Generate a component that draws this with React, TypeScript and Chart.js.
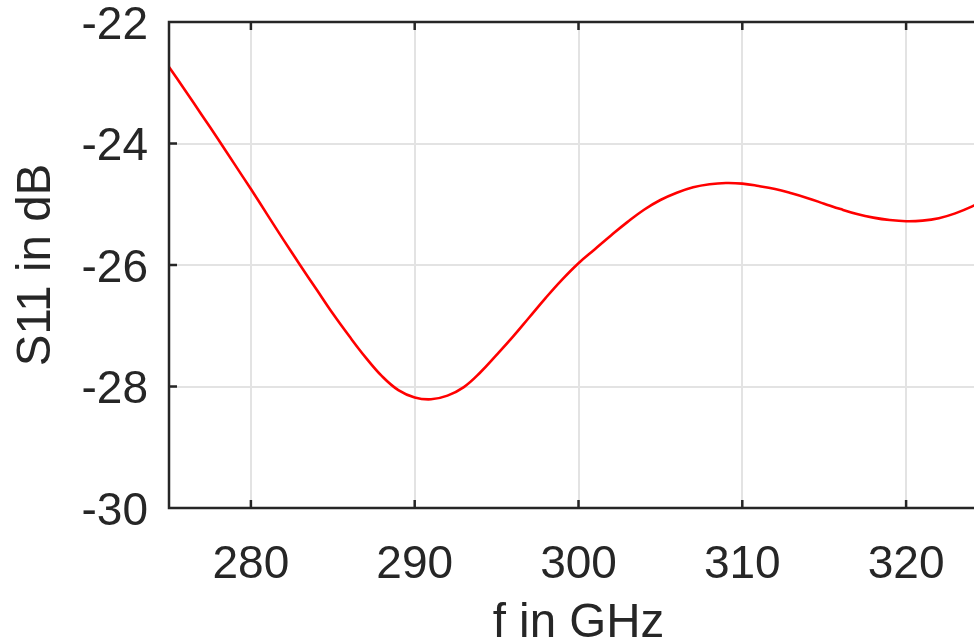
import React, { useEffect, useRef } from "react";
import { Chart, registerables } from "chart.js";

Chart.register(...registerables);

const freqGHz = [
  275, 276, 277, 278, 279, 280, 281, 282, 283, 284, 285, 286, 287, 288, 289,
  290, 291, 292, 293, 294, 295, 296, 297, 298, 299, 300, 301, 302, 303, 304,
  305, 306, 307, 308, 309, 310, 311, 312, 313, 314, 315, 316, 317, 318, 319,
  320, 321, 322, 323, 324, 325,
];
const s11dB = [
  -22.74, -23.13, -23.53, -23.93, -24.34, -24.75, -25.17, -25.59, -26.0, -26.4,
  -26.8, -27.17, -27.52, -27.83, -28.06, -28.18, -28.21, -28.15, -28.01, -27.77,
  -27.48, -27.18, -26.86, -26.54, -26.24, -25.97, -25.74, -25.51, -25.29, -25.09,
  -24.93, -24.81, -24.72, -24.67, -24.65, -24.66, -24.7, -24.75, -24.82, -24.9,
  -24.99, -25.08, -25.16, -25.22, -25.26, -25.28, -25.27, -25.23, -25.15, -25.04,
  -24.9,
];
const xTicks = [280, 290, 300, 310, 320];
const yTicks = [-30, -28, -26, -24, -22];
const xLabel = "f in GHz";
const yLabel = "S11 in dB";

const FONT = "'Liberation Sans', Arial, Helvetica, sans-serif";
const TEXT = "#262626";

const framePlugin = {
  id: "frame",
  afterDatasetsDraw(chart: any) {
    const { ctx, chartArea, scales } = chart;
    const { left, right, top, bottom } = chartArea;
    const x = scales.x;
    const y = scales.y;
    ctx.save();
    ctx.strokeStyle = TEXT;
    ctx.lineWidth = 2.5;
    ctx.beginPath();
    ctx.rect(left, top, right - left, bottom - top);
    const tl = 8;
    for (const v of xTicks) {
      const px = x.getPixelForValue(v);
      ctx.moveTo(px, bottom);
      ctx.lineTo(px, bottom - tl);
      ctx.moveTo(px, top);
      ctx.lineTo(px, top + tl);
    }
    for (const v of yTicks) {
      const py = y.getPixelForValue(v);
      ctx.moveTo(left, py);
      ctx.lineTo(left + tl, py);
      ctx.moveTo(right, py);
      ctx.lineTo(right - tl, py);
    }
    ctx.stroke();
    ctx.restore();
  },
};

export default function App() {
  const ref = useRef<HTMLCanvasElement | null>(null);

  useEffect(() => {
    if (!ref.current) return;
    const chart = new Chart(ref.current, {
      type: "line",
      data: {
        datasets: [
          {
            data: freqGHz.map((f, i) => ({ x: f, y: s11dB[i] })),
            borderColor: "#ff0000",
            borderWidth: 2.6,
            pointRadius: 0,
            fill: false,
            tension: 0.4,
          },
        ],
      },
      options: {
        animation: false,
        responsive: false,
        maintainAspectRatio: false,
        layout: { padding: { top: 22, right: 12, left: 0, bottom: 0 } },
        plugins: { legend: { display: false }, tooltip: { enabled: false } },
        scales: {
          x: {
            type: "linear",
            min: 275,
            max: 325,
            afterBuildTicks: (s: any) => {
              s.ticks = xTicks.map((v) => ({ value: v }));
            },
            afterFit: (s: any) => {
              s.height = 135;
              s.paddingLeft = 0;
              s.paddingRight = 0;
            },
            grid: { color: "#e3e3e3", lineWidth: 2, drawTicks: false },
            border: { display: false },
            ticks: {
              autoSkip: false,
              maxRotation: 0,
              padding: 30,
              color: TEXT,
              font: { family: FONT, size: 46 },
            },
            title: {
              display: true,
              text: xLabel,
              color: TEXT,
              font: { family: FONT, size: 47.5, lineHeight: 0.8 },
              padding: 0,
            },
          },
          y: {
            type: "linear",
            min: -30,
            max: -22,
            afterBuildTicks: (s: any) => {
              s.ticks = yTicks.map((v) => ({ value: v }));
            },
            afterFit: (s: any) => {
              s.width = 169;
              s.paddingTop = 0;
              s.paddingBottom = 0;
            },
            grid: { color: "#e3e3e3", lineWidth: 2, drawTicks: false },
            border: { display: false },
            ticks: {
              padding: 21,
              labelOffset: 4,
              color: TEXT,
              font: { family: FONT, size: 46 },
            },
            title: {
              display: true,
              text: yLabel,
              color: TEXT,
              font: { family: FONT, size: 47.5, lineHeight: 1 },
              padding: 13,
            },
          },
        },
      },
      plugins: [framePlugin],
    });
    return () => chart.destroy();
  }, []);

  return (
    <div
      style={{
        position: "fixed",
        left: 0,
        top: 0,
        width: 974,
        height: 643,
        overflow: "hidden",
        background: "#fff",
      }}
    >
      <canvas
        ref={ref}
        width={1000}
        height={643}
        style={{ display: "block", width: 1000, height: 643 }}
      />
    </div>
  );
}
